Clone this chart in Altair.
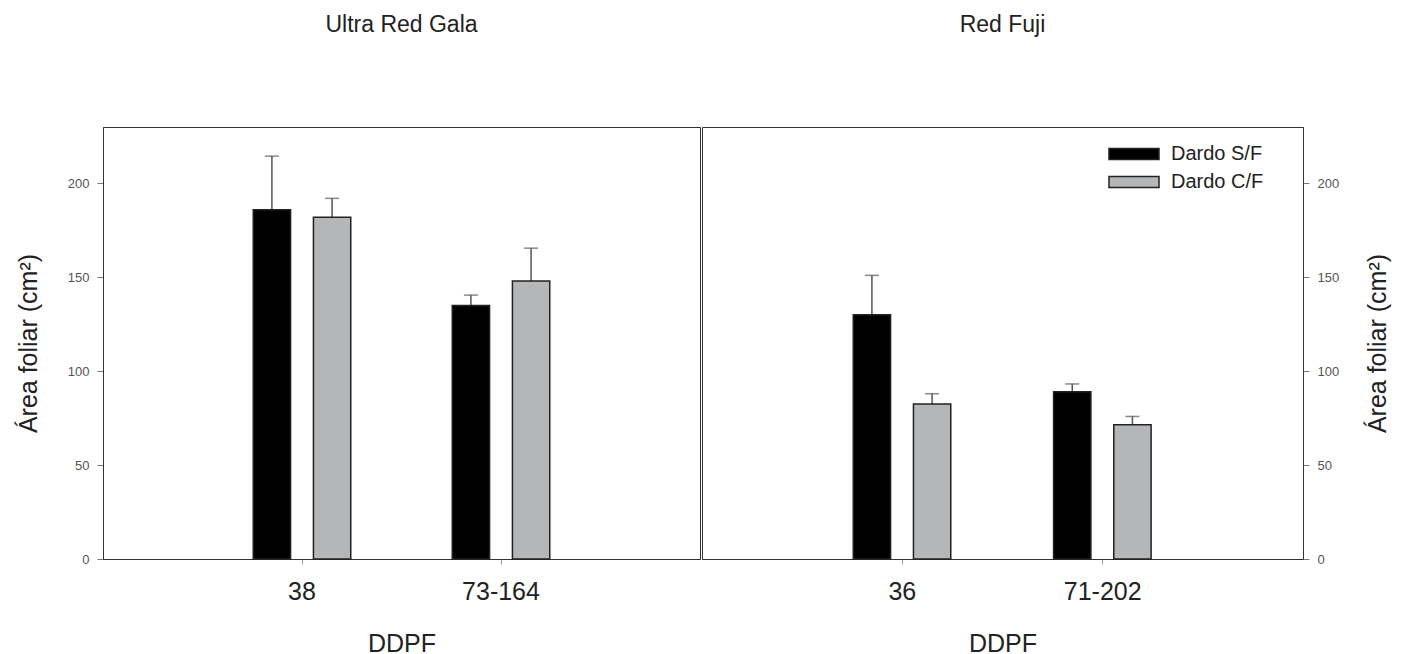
import altair as alt
import pandas as pd

cultivars = ["Ultra Red Gala", "Red Fuji"]
ddpf_gala = ["38", "73-164"]
ddpf_fuji = ["36", "71-202"]
treatments = ["Dardo S/F", "Dardo C/F"]

gala_means = [186, 182, 135, 148]
gala_errs = [28.5, 10, 5.5, 17.5]
fuji_means = [130, 82.5, 89, 71.5]
fuji_errs = [21, 5.5, 4.2, 4.4]

y_ticks = [0, 50, 100, 150, 200]

rows = []
for cult, cats, means, errs in [
    (cultivars[0], ddpf_gala, gala_means, gala_errs),
    (cultivars[1], ddpf_fuji, fuji_means, fuji_errs),
]:
    i = 0
    for c in cats:
        for t in treatments:
            rows.append({"cultivar": cult, "ddpf": c, "treat": t,
                         "mean": means[i], "upper": means[i] + errs[i]})
            i += 1
df = pd.DataFrame(rows)

FONT = "Liberation Sans"

color_scale = alt.Scale(domain=treatments, range=["#000000", "#b4b6b8"])
legend = alt.Legend(
    title=None, orient="none", legendX=1020, legendY=16,
    symbolType="M-2.5,-0.55H2.5V0.55H-2.5Z", symbolSize=400,
    symbolStrokeColor="#222", symbolStrokeWidth=1.5,
    labelFontSize=20, labelFont=FONT, labelColor="#222",
    rowPadding=7, labelOffset=26,
)


def panel(cult, cats, orient, width):
    d = df[df.cultivar == cult]
    x = alt.X("ddpf:N", sort=cats,
              scale=alt.Scale(paddingInner=0.51, paddingOuter=0.755),
              axis=alt.Axis(title="DDPF", labelAngle=0, labelFontSize=25,
                            labelFont=FONT, labelColor="#222", labelPadding=15,
                            tickSize=5, tickColor="#999", domainColor="#333",
                            titleFontSize=25, titleFont=FONT,
                            titleFontWeight="normal", titleColor="#222",
                            titlePadding=27))
    xo = alt.XOffset("treat:N", sort=treatments,
                     scale=alt.Scale(paddingInner=0.38, paddingOuter=0))
    if orient == "left":
        yaxis = alt.Axis(orient="left", title="Área foliar (cm²)",
                         values=y_ticks, grid=False, labelFontSize=13,
                         labelFont=FONT, labelColor="#555", labelPadding=8,
                         tickSize=6, tickColor="#777", domainColor="#333",
                         titleFontSize=25, titleFont=FONT,
                         titleFontWeight="normal", titleColor="#222",
                         titlePadding=26)
    else:
        yaxis = alt.Axis(orient="right", title="Área foliar (cm²)",
                         values=y_ticks, grid=False, labelFontSize=13,
                         labelFont=FONT, labelColor="#555", labelPadding=8,
                         tickSize=6, tickColor="#777", domainColor="#333",
                         titleFontSize=25, titleFont=FONT,
                         titleFontWeight="normal", titleColor="#222",
                         titleAngle=270, titleBaseline="top",
                         titlePadding=27)
    y = alt.Y("mean:Q", scale=alt.Scale(domain=[0, 230], nice=False),
              axis=yaxis)
    base = alt.Chart(d)
    rule = base.mark_rule(color="#555", strokeWidth=1.5).encode(
        x=x, xOffset=xo, y=y, y2="upper:Q")
    cap = base.mark_tick(orient="horizontal", size=14, thickness=1.5,
                         color="#555").encode(x=x, xOffset=xo, y="upper:Q")
    bars = base.mark_bar(stroke="#222", strokeWidth=1.5).encode(
        x=x, xOffset=xo, y=y,
        color=alt.Color("treat:N", scale=color_scale, sort=treatments,
                        legend=legend))
    return alt.layer(rule, cap, bars).properties(
        width=width, height=432,
        view=alt.ViewBackground(stroke="#333", strokeWidth=1),
        title=alt.TitleParams(cult, fontSize=23, font=FONT,
                              fontWeight="normal", color="#222", offset=90),
    )


left = panel(cultivars[0], ddpf_gala, "left", 597)
right = panel(cultivars[1], ddpf_fuji, "right", 601)

chart = alt.hconcat(left, right, spacing=0).resolve_scale(
    x="independent", y="independent", color="shared"
).properties(
    padding={"left": 7, "top": 5, "right": 5, "bottom": 5}
).configure_view(stroke="#333", strokeWidth=1).configure(background="white")

chart.save("out.html", embed_options={"renderer": "svg", "actions": False})
